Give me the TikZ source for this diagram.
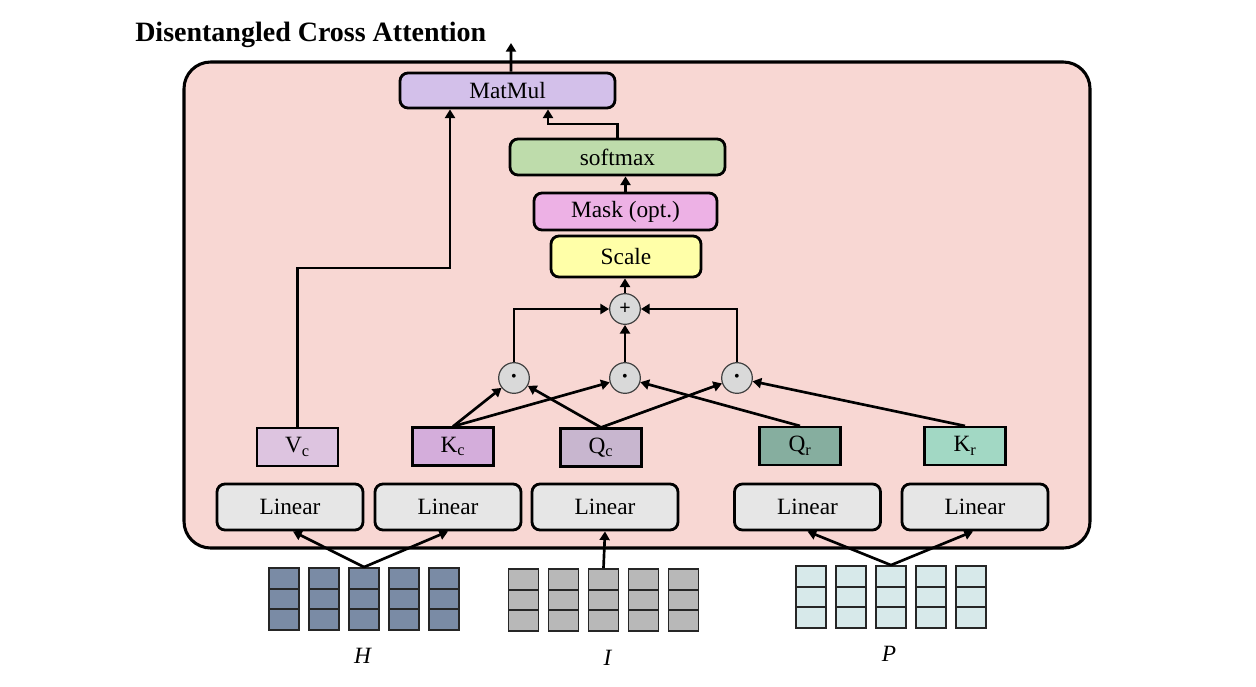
\documentclass[tikz,border=0pt]{standalone}
\usepackage{fontspec}
\setmainfont{Liberation Serif}
\usetikzlibrary{arrows.meta}
\definecolor{outerc}{HTML}{F8D7D3}
\definecolor{matc}{HTML}{D3C0EA}
\definecolor{softc}{HTML}{BEDCAB}
\definecolor{maskc}{HTML}{EDB1E5}
\definecolor{scalec}{HTML}{FFFFA8}
\definecolor{opgray}{HTML}{D9D9D9}
\definecolor{vcc}{HTML}{DDC4E0}
\definecolor{kcc}{HTML}{D4ADDB}
\definecolor{qcc}{HTML}{C8B6CF}
\definecolor{qrc}{HTML}{86AE9F}
\definecolor{krc}{HTML}{A2D8C4}
\definecolor{linc}{HTML}{E6E6E6}
\definecolor{hcol}{HTML}{7A8BA5}
\definecolor{icol}{HTML}{B8B8B8}
\definecolor{pcol}{HTML}{D7E9EA}
\begin{document}
\begin{tikzpicture}[x=0.75pt,y=-0.75pt,
  font=\fontsize{17.5}{20}\selectfont,
  arr/.style={line width=2pt,-{Triangle[length=6.5pt,width=7.5pt]}},
  rbox/.style={draw,line width=2.1pt,rounded corners=6pt,inner sep=0pt},
  sbox/.style={draw,line width=1.6pt,inner sep=0pt,minimum width=60.75pt,minimum height=28.5pt},
  op/.style={circle,draw=black!75,line width=0.9pt,fill=opgray,minimum size=23pt,inner sep=0pt},
  cell/.style={draw=black!85,line width=1.3pt,minimum width=22.5pt,minimum height=15.5pt,inner sep=0pt},
  linbox/.style={rbox,fill=linc,minimum width=109.5pt,minimum height=34.5pt}
]
\useasboundingbox (0,0) rectangle (1256,686);

% outer frame
\node[draw,line width=2.3pt,rounded corners=20pt,fill=outerc,minimum width=679.5pt,minimum height=364.5pt] (frame) at (637,305) {};

% title
\node[anchor=base west,font=\fontsize{21}{24}\selectfont\bfseries,inner sep=0pt] (title) at (135,41) {Disentangled Cross Attention};

% upper chain
\node[rbox,fill=matc,minimum width=161.25pt,minimum height=26.25pt] (MatMul) at (507.5,90.5) {MatMul};
\node[rbox,fill=softc,minimum width=161.25pt,minimum height=27pt] (softmax) at (617.5,157) {softmax};
\node[rbox,fill=maskc,minimum width=137.25pt,minimum height=27.75pt] (Mask) at (625.5,211.5) {Mask (opt.)};
\node[rbox,fill=scalec,minimum width=112.5pt,minimum height=30.75pt] (Scale) at (626,256.5) {Scale};

% operators
\node[op,font=\fontsize{15}{16}\selectfont\bfseries] (plus) at (625,309) {+};
\node[op,font=\fontsize{12}{13}\selectfont] (d1) at (514,378) {\textbullet};
\node[op,font=\fontsize{12}{13}\selectfont] (d2) at (625,378) {\textbullet};
\node[op,font=\fontsize{12}{13}\selectfont] (d3) at (737,378) {\textbullet};

% projections
\node[sbox,fill=vcc] (Vc) at (297.5,447) {V\textsubscript{c}};
\node[sbox,fill=kcc] (Kc) at (453,446.5) {K\textsubscript{c}};
\node[sbox,fill=qcc] (Qc) at (601,447.5) {Q\textsubscript{c}};
\node[sbox,fill=qrc] (Qr) at (800,446) {Q\textsubscript{r}};
\node[sbox,fill=krc] (Kr) at (965,446) {K\textsubscript{r}};

% linear layers
\node[linbox] (L1) at (290,507) {Linear};
\node[linbox] (L2) at (448,507) {Linear};
\node[linbox] (L3) at (605,507) {Linear};
\node[linbox] (L4) at (807.5,507) {Linear};
\node[linbox] (L5) at (975,507) {Linear};

% token grids
\foreach \n/\bx/\by/\c in {H/284/578.3/hcol, I/523.5/579.3/icol, P/811/576.3/pcol}{
  \foreach \i in {1,...,5}{
    \foreach \j in {1,2,3}{
      \node[cell,fill=\c] (\n\i\j) at ({\bx+40*(\i-1)},{\by+20.67*(\j-1)}) {};
    }
  }
}
\node[anchor=base,inner sep=0pt] (Hlab) at (363,663) {\textit{H}};
\node[anchor=base,inner sep=0pt] (Ilab) at (608,665) {\textit{I}};
\node[anchor=base,inner sep=0pt] (Plab) at (889,661) {\textit{P}};

% connectors
\coordinate (out) at (511,43);
\draw[arr] ([xshift=2.6pt]MatMul.north) -- (out);
\coordinate (vturn) at (450,268);
\draw[arr] (Vc.north) |- (vturn) -- (vturn |- MatMul.south);
\coordinate (sturn) at (548,124);
\draw[arr] (softmax.north) |- (sturn) -- (sturn |- MatMul.south);
\draw[arr] (Mask.north) -- (Mask.north |- softmax.south);
\draw[arr] (plus.north) -- (plus.north |- Scale.south);
\draw[arr] (d1.north) |- (plus.west);
\draw[arr] (d3.north) |- (plus.east);
\draw[arr] (d2) -- (plus);

\draw[arr] (Kc.north) -- (d1);
\draw[arr] (Kc.north) -- (d2);
\draw[arr] (Qc.north) -- (d1);
\draw[arr] (Qc.north) -- (d3);
\draw[arr] (Qr.north) -- (d2);
\draw[arr] (Kr.north) -- (d3);

\draw[arr] (H31.north) -- ([xshift=2.25pt]L1.south);
\draw[arr] (H31.north) -- (L2.south);
\draw[arr] (I31.north) -- (L3.south);
\draw[arr] (P31.north) -- (L4.south);
\draw[arr] (P31.north) -- ([xshift=-1.5pt]L5.south);
\end{tikzpicture}
\end{document}
